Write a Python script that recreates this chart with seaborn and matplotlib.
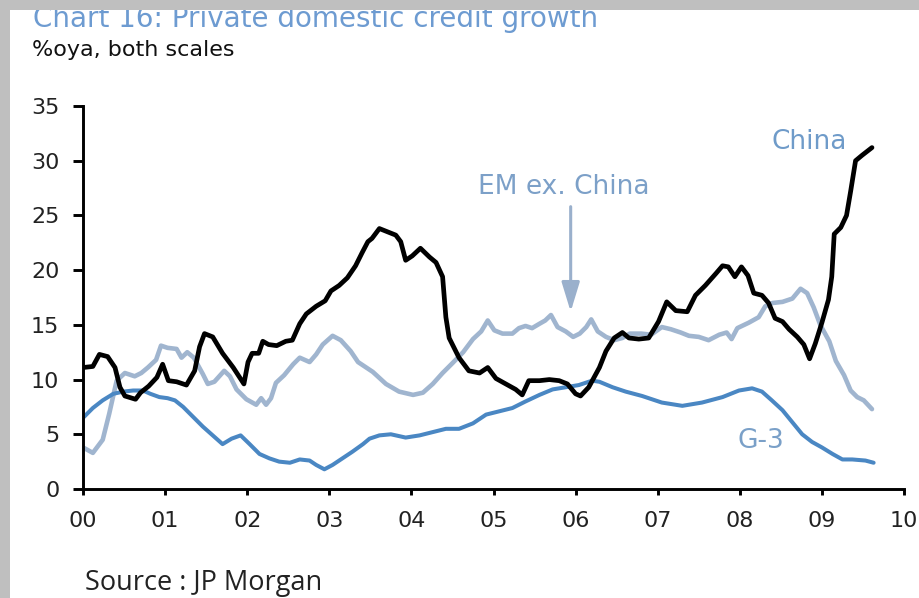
import matplotlib
matplotlib.use("Agg")
import matplotlib.pyplot as plt
import seaborn as sns
import pandas as pd
from matplotlib.patches import Rectangle

# Private domestic credit growth, %oya; time in years since Jan 2000
china_t = [0.00, 0.12, 0.20, 0.30, 0.39, 0.45, 0.51, 0.64, 0.70, 0.80, 0.90, 0.97,
           1.04, 1.14, 1.26, 1.36, 1.42, 1.48, 1.58, 1.70, 1.83, 1.96,
           2.01, 2.06, 2.14, 2.19, 2.26, 2.36, 2.47, 2.55, 2.64, 2.72, 2.84, 2.95,
           3.02, 3.12, 3.22, 3.32, 3.40, 3.47, 3.52, 3.61, 3.71, 3.81, 3.87, 3.93,
           4.01, 4.11, 4.22, 4.30, 4.38, 4.42, 4.46, 4.58, 4.70, 4.83, 4.93,
           5.03, 5.15, 5.27, 5.35, 5.43, 5.56, 5.68, 5.80, 5.90,
           6.00, 6.06, 6.16, 6.29, 6.37, 6.47, 6.57, 6.65, 6.77, 6.89,
           7.01, 7.11, 7.22, 7.36, 7.46, 7.58, 7.71, 7.79, 7.86, 7.94,
           8.02, 8.10, 8.17, 8.27, 8.35, 8.43, 8.52, 8.60, 8.70, 8.78, 8.85, 8.92,
           9.00, 9.08, 9.12, 9.15, 9.23, 9.30, 9.35, 9.41, 9.49, 9.61]
china_v = [11.1, 11.2, 12.3, 12.1, 11.1, 9.3, 8.5, 8.2, 8.8, 9.4, 10.2, 11.4,
           9.9, 9.8, 9.5, 10.8, 13.0, 14.2, 13.9, 12.4, 11.1, 9.6,
           11.6, 12.4, 12.4, 13.5, 13.2, 13.1, 13.5, 13.6, 15.1, 16.0, 16.7, 17.2,
           18.1, 18.6, 19.3, 20.4, 21.6, 22.6, 22.9, 23.8, 23.5, 23.2, 22.6, 20.9,
           21.3, 22.0, 21.2, 20.7, 19.4, 15.7, 13.8, 12.0, 10.8, 10.6, 11.1,
           10.1, 9.6, 9.1, 8.6, 9.9, 9.9, 10.0, 9.9, 9.6,
           8.7, 8.5, 9.3, 11.1, 12.6, 13.8, 14.3, 13.8, 13.7, 13.8,
           15.3, 17.1, 16.3, 16.2, 17.7, 18.6, 19.7, 20.4, 20.3, 19.4,
           20.3, 19.5, 17.9, 17.7, 17.0, 15.6, 15.3, 14.6, 13.9, 13.2, 11.9, 13.3,
           15.2, 17.3, 19.4, 23.3, 23.9, 25.0, 27.2, 30.0, 30.5, 31.2]

em_t = [0.00, 0.12, 0.24, 0.32, 0.41, 0.51, 0.63, 0.71, 0.79, 0.89, 0.95,
        1.03, 1.14, 1.20, 1.27, 1.35, 1.46, 1.52, 1.60, 1.72, 1.79, 1.87, 1.99,
        2.11, 2.17, 2.23, 2.29, 2.35, 2.45, 2.56, 2.64, 2.76, 2.84, 2.92,
        3.04, 3.14, 3.26, 3.35, 3.47, 3.53, 3.69, 3.85,
        4.02, 4.14, 4.26, 4.38, 4.50, 4.63, 4.75, 4.85, 4.93,
        5.01, 5.11, 5.23, 5.31, 5.39, 5.47, 5.56, 5.63, 5.70, 5.78, 5.88, 5.97,
        6.05, 6.13, 6.19, 6.27, 6.37, 6.47, 6.57, 6.66, 6.80, 6.92,
        7.05, 7.16, 7.28, 7.38, 7.50, 7.62, 7.75, 7.84, 7.90, 7.97,
        8.11, 8.23, 8.31, 8.40, 8.52, 8.64, 8.74, 8.82, 8.90, 8.98,
        9.09, 9.17, 9.27, 9.35, 9.43, 9.51, 9.61]
em_v = [3.8, 3.3, 4.5, 6.9, 9.9, 10.6, 10.3, 10.6, 11.1, 11.8, 13.1,
        12.9, 12.8, 12.0, 12.5, 12.0, 10.5, 9.6, 9.8, 10.8, 10.3, 9.1, 8.2,
        7.7, 8.3, 7.7, 8.3, 9.7, 10.4, 11.4, 12.0, 11.6, 12.3, 13.2,
        14.0, 13.6, 12.6, 11.6, 11.0, 10.7, 9.6, 8.9,
        8.6, 8.8, 9.6, 10.6, 11.5, 12.5, 13.7, 14.4, 15.4,
        14.5, 14.2, 14.2, 14.7, 14.9, 14.7, 15.1, 15.4, 15.9, 14.8, 14.4, 13.9,
        14.2, 14.8, 15.5, 14.4, 13.9, 13.6, 13.8, 14.2, 14.2, 14.1,
        14.8, 14.6, 14.3, 14.0, 13.9, 13.6, 14.1, 14.3, 13.7, 14.7,
        15.2, 15.7, 16.7, 17.0, 17.1, 17.4, 18.3, 17.9, 16.6, 15.0,
        13.5, 11.7, 10.4, 9.0, 8.4, 8.1, 7.3]

g3_t = [0.00, 0.12, 0.24, 0.37, 0.49, 0.61, 0.73, 0.82, 0.93,
        1.03, 1.12, 1.22, 1.34, 1.46, 1.58, 1.70, 1.81, 1.92,
        2.03, 2.15, 2.27, 2.39, 2.52, 2.64, 2.76, 2.84, 2.94,
        3.04, 3.16, 3.28, 3.41, 3.49, 3.61, 3.75, 3.93,
        4.10, 4.26, 4.42, 4.58, 4.75, 4.91,
        5.07, 5.23, 5.39, 5.56, 5.72, 5.88,
        6.04, 6.20, 6.29, 6.45, 6.61, 6.81,
        7.05, 7.30, 7.54, 7.79, 7.99,
        8.15, 8.27, 8.39, 8.52, 8.64, 8.76, 8.88,
        9.00, 9.13, 9.25, 9.37, 9.53, 9.63]
g3_v = [6.5, 7.4, 8.1, 8.7, 8.9, 9.0, 9.0, 8.7, 8.4,
        8.3, 8.1, 7.5, 6.6, 5.7, 4.9, 4.1, 4.6, 4.9,
        4.1, 3.2, 2.8, 2.5, 2.4, 2.7, 2.6, 2.2, 1.8,
        2.2, 2.8, 3.4, 4.1, 4.6, 4.9, 5.0, 4.7,
        4.9, 5.2, 5.5, 5.5, 6.0, 6.8,
        7.1, 7.4, 8.0, 8.6, 9.1, 9.3,
        9.5, 9.9, 9.8, 9.3, 8.9, 8.5,
        7.9, 7.6, 7.9, 8.4, 9.0,
        9.2, 8.9, 8.1, 7.2, 6.1, 5.0, 4.3,
        3.8, 3.2, 2.7, 2.7, 2.6, 2.4]

year_ticks = list(range(11))
year_labels = ["00", "01", "02", "03", "04", "05", "06", "07", "08", "09", "10"]
y_ticks = [0, 5, 10, 15, 20, 25, 30, 35]

sns.set_theme(style="white")
plt.rcParams["font.family"] = ["DejaVu Sans"]

W, H = 919, 598
fig = plt.figure(figsize=(W / 100, H / 100), dpi=100)
fig.patch.set_facecolor("white")
ax = fig.add_axes([83 / W, (H - 489) / H, (904 - 83) / W, (489 - 106) / H])

frames = {
    "EM ex. China": (em_t, em_v, "#a0b5cf", 3.3),
    "G-3": (g3_t, g3_v, "#4a87c3", 2.9),
    "China": (china_t, china_v, "#000000", 3.4),
}
for name, (t, v, col, lw) in frames.items():
    df = pd.DataFrame({"t": t, "v": v})
    sns.lineplot(data=df, x="t", y="v", ax=ax, color=col, linewidth=lw,
                 estimator=None, sort=False, solid_joinstyle="round",
                 solid_capstyle="round")

ax.set_xlim(0, 10)
ax.set_ylim(0, 35)
ax.set_xticks(year_ticks)
ax.set_xticklabels(year_labels)
ax.set_yticks(y_ticks)
ax.set_xlabel("")
ax.set_ylabel("")
for s in ["top", "right"]:
    ax.spines[s].set_visible(False)
for s in ["left", "bottom"]:
    ax.spines[s].set_color("black")
    ax.spines[s].set_linewidth(2.1)
ax.tick_params(axis="y", direction="out", length=7, width=2.1, pad=10,
               labelsize=16, colors="black", left=True)
ax.tick_params(axis="x", direction="out", length=4, width=2.1, pad=12,
               labelsize=16, colors="black", bottom=True)
for lab in ax.get_xticklabels() + ax.get_yticklabels():
    lab.set_color("#222222")

# Series labels and pointer
ax.text(8.84, 31.7, "China", ha="center", va="center", fontsize=19,
        color="#6f9bc9")
ax.text(5.86, 27.6, "EM ex. China", ha="center", va="center", fontsize=19,
        color="#7ca0c8")
ax.text(8.26, 4.4, "G-3", ha="center", va="center", fontsize=19,
        color="#7aa0c8")
ax.annotate("", xy=(5.94, 16.2), xytext=(5.94, 25.8),
            arrowprops=dict(arrowstyle="-|>,head_length=1.8,head_width=0.55",
                            mutation_scale=10, color="#9ab0cc", lw=2.2,
                            shrinkA=0, shrinkB=0))

# Headings and source note
fig.text(33 / W, 1 - 27 / H, "Chart 16: Private domestic credit growth",
         fontsize=20, color="#6d9bd1", va="baseline", ha="left", zorder=1)
fig.text(32 / W, 1 - 56 / H, "%oya, both scales", fontsize=16,
         color="#111111", va="baseline", ha="left")
fig.text(85 / W, 1 - 590 / H, "Source : JP Morgan", fontsize=19.5,
         family=["Open Sans", "DejaVu Sans"], color="#222222",
         va="baseline", ha="left")

# Grey frame along the top and left edges
fig.add_artist(Rectangle((0, 0), 10 / W, 1, transform=fig.transFigure,
                         facecolor="#bfbfbf", edgecolor="none", zorder=10))
fig.add_artist(Rectangle((0, 1 - 10 / H), 1, 10 / H, transform=fig.transFigure,
                         facecolor="#bfbfbf", edgecolor="none", zorder=10))

fig.savefig("out.png", dpi=100)
